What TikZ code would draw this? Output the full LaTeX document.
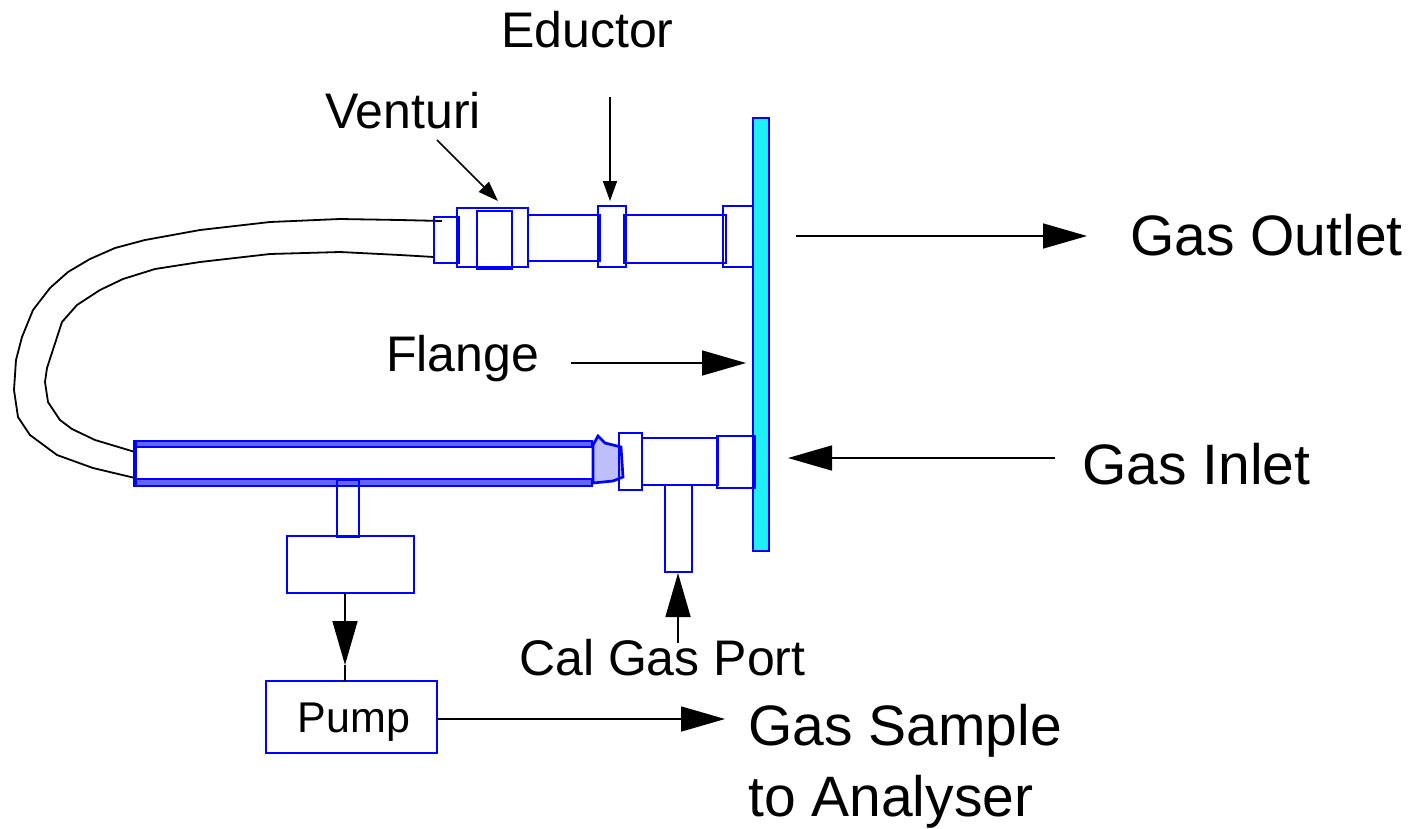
\documentclass[tikz,border=0pt]{standalone}
\usepackage{fontspec}
\setmainfont{Liberation Sans}
\usetikzlibrary{arrows.meta}

\definecolor{partblue}{RGB}{0,0,255}
\definecolor{flangecyan}{RGB}{30,240,245}
\definecolor{bandblue}{RGB}{100,100,250}
\definecolor{tipblue}{RGB}{190,190,250}

\tikzset{
	part/.style={draw=partblue, line width=2.7pt, inner sep=0pt, outer sep=0pt},
	hose/.style={draw=black, line width=1.8pt, line join=round},
	lead/.style={draw=black, line width=1.6pt},
	bigarrow/.style={lead, -{Triangle[length=44pt,width=25pt]}},
	smallarrow/.style={lead, -{Triangle[length=20pt,width=14pt]}},
	biglabel/.style={anchor=base west, inner sep=0pt, font=\fontsize{57}{74}\selectfont},
	midlabel/.style={anchor=base west, inner sep=0pt, font=\fontsize{50}{60}\selectfont},
}

\begin{document}
\begin{tikzpicture}[x=1pt,y=-1pt]
	\useasboundingbox (0,0) rectangle (1424,828);

	% Hose, outer and inner wall
	\draw[hose] (135,478) -- (93,468) -- (57,455) -- (30,435) -- (18,417) -- (14,390) -- (16,360) -- (22,337) -- (33,310) -- (50,288) -- (68,272) -- (90,259) -- (115,248) -- (145,240) -- (200,230) -- (270,222) -- (340,219) -- (400,220) -- (442,221);
	\draw[hose] (135,452) -- (95,440) -- (72,429) -- (60,420) -- (48,402) -- (45,382) -- (47,368) -- (62,322) -- (77,305) -- (100,290) -- (123,279) -- (155,269) -- (200,262) -- (270,254) -- (340,252) -- (400,255) -- (434,257);

	% Flange
	\draw[part, fill=flangecyan] (753,118) rectangle (769,551);

	% Upper line
	\draw[part] (434,217) rectangle (459,263);
	\draw[part] (457,208) rectangle (528,267);
	\draw[part] (477,211) rectangle (512,269);
	\draw[part] (528,215) rectangle (600,261);
	\draw[part] (598,206) rectangle (626,267);
	\draw[part] (624,215) rectangle (726,263);
	\draw[part] (723,206) rectangle (753,267);

	% Probe with its filter bands
	\draw[part, fill=bandblue] (134,441) rectangle (592,447);
	\draw[part, fill=bandblue] (134,479) rectangle (592,486);
	\draw[part] (134,441) rectangle (136,486);
	\draw[part, fill=tipblue] (593,445) -- (598,436) -- (605,443) -- (621,447) -- (623,477) -- (613,481) -- (593,483) -- cycle;

	% Lower line
	\draw[part] (619,433) rectangle (642,490);
	\draw[part] (642,438) rectangle (718,485);
	\draw[part] (717,436) rectangle (755,488);
	\node[part, minimum width=27pt, minimum height=87pt] (port) at (678.5,528.5) {};

	% Stub, box and pump
	\node[part, minimum width=22pt, minimum height=57pt] (stub) at (348,508.5) {};
	\node[part, minimum width=127pt, minimum height=57pt] (box) at (350.5,564.5) {};
	\node[part, minimum width=171pt, minimum height=72pt] (pump) at (351.5,717) {};
	\node[midlabel, font=\fontsize{43}{50}\selectfont] (pumplabel) at (297.5,732) {Pump};

	% Labels
	\node[midlabel] (eductor) at (501,47) {Eductor};
	\node[midlabel] (venturi) at (325,128) {Venturi};
	\node[midlabel] (flange) at (386,371) {Flange};
	\node[midlabel] (calgas) at (519,675) {Cal Gas Port};
	\node[biglabel] (outlet) at (1130,255) {Gas Outlet};
	\node[biglabel] (inlet) at (1082,484) {Gas Inlet};
	\node[biglabel] (sample) at (748,745) {Gas Sample};
	\node[biglabel] (analyser) at (748,816) {to Analyser};

	% Free ends of the arrows
	\coordinate (venturitail) at (437,140);
	\coordinate (venturitip) at (498,201);
	\coordinate (eductortail) at (610,97);
	\coordinate (eductortip) at (610,201);
	\coordinate (outlettail) at (796,236);
	\coordinate (outlettip) at (1087,236);
	\coordinate (flangetail) at (571,363);
	\coordinate (flangetip) at (746,363);
	\coordinate (inlettail) at (1055,458);
	\coordinate (inlettip) at (788,458);
	\coordinate (caltail) at (678,643);
	\coordinate (caltip) at (678,573);
	\coordinate (boxout) at (345,593);
	\coordinate (pumpin) at (345,681);
	\coordinate (boxtip) at (345,665);
	\coordinate (sampletip) at (725,719);

	% Arrows
	\draw[smallarrow] (venturitail) -- (venturitip);
	\draw[smallarrow] (eductortail) -- (eductortip);
	\draw[bigarrow] (outlettail) -- (outlettip);
	\draw[bigarrow] (flangetail) -- (flangetip);
	\draw[bigarrow] (inlettail) -- (inlettip);
	\draw[bigarrow] (caltail) -- (caltip);
	\draw[bigarrow] (boxout) -- (boxtip);
	\draw[lead] (boxtip) -- (pumpin);
	\draw[bigarrow] (pump.east |- sampletip) -- (sampletip);
\end{tikzpicture}
\end{document}
